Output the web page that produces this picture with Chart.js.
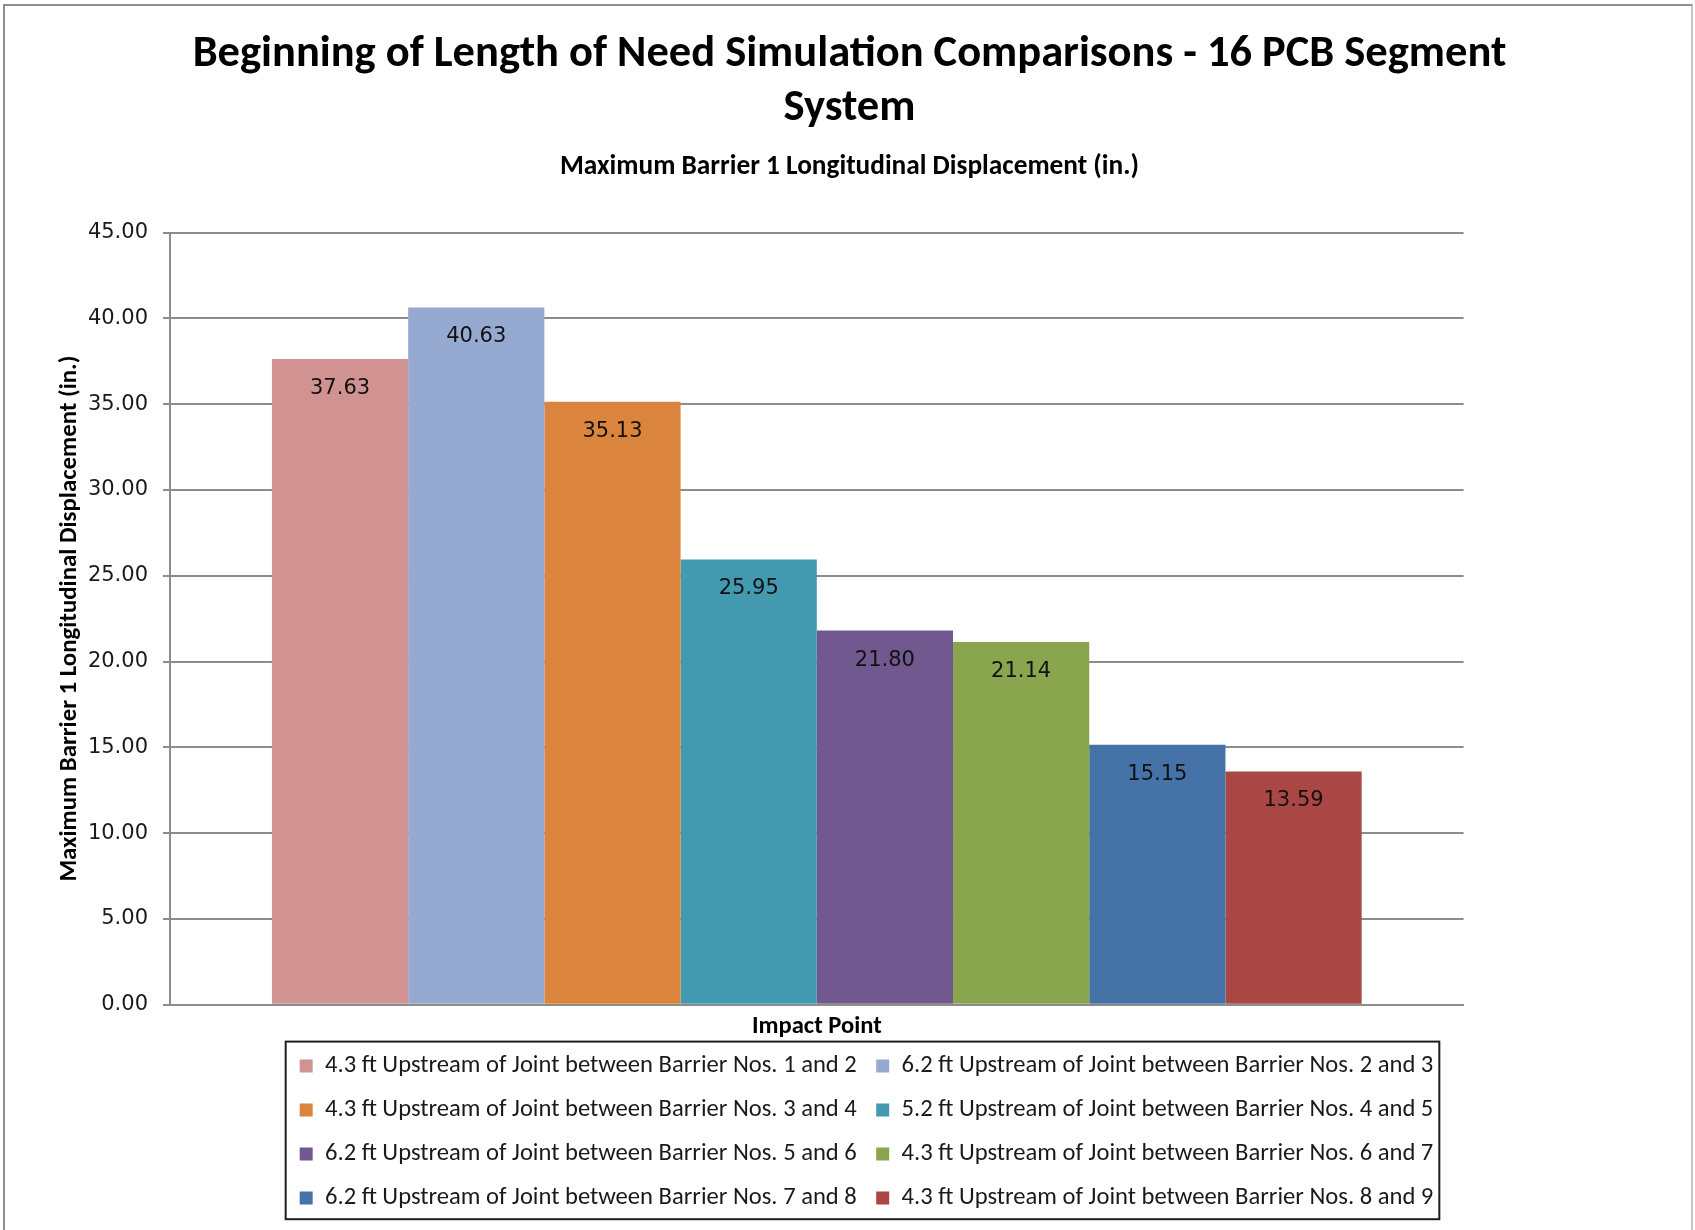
<!DOCTYPE html>
<html>
<head>
<meta charset="utf-8">
<script src="https://cdn.jsdelivr.net/npm/chart.js@4.4.1/dist/chart.umd.min.js"></script>
<style>
  html, body { margin: 0; padding: 0; background: #fff; overflow: hidden; }
  #wrap { position: relative; width: 1695px; height: 1230px; }
  #chart { position: absolute; left: 0; top: 0; }
  #frame {
    position: absolute; left: 3px; top: 4px; width: 1690px; height: 1300px;
    box-sizing: border-box; border: 2px solid #8e8e8e; border-right-color: #c4c4c4;
    pointer-events: none;
  }
</style>
</head>
<body>
<div id="wrap">
  <canvas id="chart" width="1695" height="1230"></canvas>
  <div id="frame"></div>
</div>
<script>
// ---- chart data ----
const impactPoints = [
  '4.3 ft Upstream of Joint between Barrier Nos. 1 and 2',
  '6.2 ft Upstream of Joint between Barrier Nos. 2 and 3',
  '4.3 ft Upstream of Joint between Barrier Nos. 3 and 4',
  '5.2 ft Upstream of Joint between Barrier Nos. 4 and 5',
  '6.2 ft Upstream of Joint between Barrier Nos. 5 and 6',
  '4.3 ft Upstream of Joint between Barrier Nos. 6 and 7',
  '6.2 ft Upstream of Joint between Barrier Nos. 7 and 8',
  '4.3 ft Upstream of Joint between Barrier Nos. 8 and 9'
];
const maxDisplacement = [37.63, 40.63, 35.13, 25.95, 21.80, 21.14, 15.15, 13.59];
const barColors = ['#D19392', '#95A9D1', '#DB843D', '#4299B0', '#71588F', '#89A54E', '#4572A7', '#AA4643'];
const yTickValues = [0, 5, 10, 15, 20, 25, 30, 35, 40, 45];
const chartTitle = ['Beginning of Length of Need Simulation Comparisons - 16 PCB Segment', 'System'];
const chartSubtitle = 'Maximum Barrier 1 Longitudinal Displacement (in.)';
const yAxisTitle = 'Maximum Barrier 1 Longitudinal Displacement (in.)';
const xAxisTitle = 'Impact Point';

// ---- fonts ----
const probe = document.createElement('canvas').getContext('2d');
const SAMPLE = 'The quick brown fox jumps 0123456789';
function fontAvailable(name) {
  probe.font = '40px monospace';
  const base = probe.measureText(SAMPLE).width;
  probe.font = `40px "${name}", monospace`;
  return probe.measureText(SAMPLE).width !== base;
}
const textFamily = ['Carlito', 'Lato', 'Open Sans'].find(fontAvailable) || 'sans-serif';
const FAMILY = `"${textFamily}", sans-serif`;
const NUM_FAMILY = '"DejaVu Sans", Verdana, sans-serif';
function fitSize(text, weight, width) {
  probe.font = `${weight} 100px ${FAMILY}`;
  return Math.round(1000 * width / probe.measureText(text).width) / 10;
}
const titleSize = fitSize(chartTitle[0], 'bold', 1315);
const subtitleSize = fitSize(chartSubtitle, 'bold', 580);
const yTitleSize = fitSize(yAxisTitle, 'bold', 526);
const xTitleSize = fitSize(xAxisTitle, 'bold', 130);
const legendSize = fitSize(impactPoints[0], 'normal', 533);
const LEGEND_ROW = 44;
const LEGEND_SHIFT = 17;
const GRID = '#8c8c8c';
const NUM_FONT_SIZE = 21;

// value printed near the top inside each bar
const valueLabels = {
  id: 'valueLabels',
  afterDatasetsDraw(chart) {
    const ctx = chart.ctx;
    ctx.save();
    ctx.font = `${NUM_FONT_SIZE}px ${NUM_FAMILY}`;
    ctx.fillStyle = '#111';
    ctx.textAlign = 'center';
    ctx.textBaseline = 'middle';
    chart.data.datasets.forEach((ds, i) => {
      chart.getDatasetMeta(i).data.forEach((bar, j) => {
        ctx.fillText(ds.data[j].toFixed(2), bar.x, bar.y + 29.5);
      });
    });
    ctx.restore();
  }
};

// boxed legend, nudged right of the page centre
const legendFrame = {
  id: 'legendFrame',
  afterUpdate(chart) {
    const lg = chart.legend;
    if (!lg) return;
    lg.left += LEGEND_SHIFT;
    lg.right += LEGEND_SHIFT;
    lg.legendHitBoxes.forEach(h => { h.left += LEGEND_SHIFT; });
  },
  afterDraw(chart) {
    const boxes = chart.legend.legendHitBoxes;
    const left = Math.min(...boxes.map(b => b.left)) - 14;
    const right = Math.max(...boxes.map(b => b.left + b.width)) + 6;
    const top = Math.min(...boxes.map(b => b.top)) - 12;
    const bottom = Math.max(...boxes.map(b => b.top + b.height)) + 9;
    const ctx = chart.ctx;
    ctx.save();
    ctx.strokeStyle = '#1e1e1e';
    ctx.lineWidth = 2;
    ctx.strokeRect(left, top, right - left, bottom - top);
    ctx.restore();
  }
};

new Chart(document.getElementById('chart'), {
  type: 'bar',
  data: {
    labels: [xAxisTitle],
    datasets: impactPoints.map((name, i) => ({
      label: name,
      data: [maxDisplacement[i]],
      backgroundColor: barColors[i],
      borderWidth: 0,
      categoryPercentage: 0.8424,
      barPercentage: 1
    }))
  },
  options: {
    responsive: false,
    animation: false,
    devicePixelRatio: 1,
    layout: { padding: { left: 4, right: 0, top: 0, bottom: 9.8 } },
    plugins: {
      title: {
        display: true, text: chartTitle, color: '#000',
        font: { family: FAMILY, weight: 'bold', size: titleSize, lineHeight: '54px' },
        padding: { top: 28, bottom: 0 }
      },
      subtitle: {
        display: true, text: chartSubtitle, color: '#000',
        font: { family: FAMILY, weight: 'bold', size: subtitleSize, lineHeight: '28px' },
        padding: { top: 17.5, bottom: 51 }
      },
      legend: {
        position: 'bottom',
        labels: {
          boxWidth: 13, boxHeight: 13,
          padding: LEGEND_ROW - legendSize,
          color: '#1a1a1a',
          font: { family: FAMILY, size: legendSize }
        }
      },
      tooltip: { enabled: false }
    },
    scales: {
      x: {
        grid: { display: false, drawTicks: false },
        border: { display: true, color: GRID, width: 2 },
        ticks: { display: false },
        title: {
          display: true, text: xAxisTitle, color: '#000',
          font: { family: FAMILY, weight: 'bold', size: xTitleSize, lineHeight: '14px' },
          padding: { top: 15, bottom: 0.5 }
        }
      },
      y: {
        min: yTickValues[0],
        max: yTickValues[yTickValues.length - 1],
        afterBuildTicks: s => { s.ticks = yTickValues.map(v => ({ value: v })); },
        afterFit: s => { s.width = 166; },
        grid: { color: GRID, lineWidth: 2, drawTicks: true, tickLength: 7, tickColor: GRID },
        border: { display: true, color: GRID, width: 2 },
        ticks: {
          color: '#1a1a1a', padding: 15,
          font: { family: NUM_FAMILY, size: NUM_FONT_SIZE },
          callback: v => Number(v).toFixed(2)
        },
        title: {
          display: true, text: yAxisTitle, color: '#000',
          font: { family: FAMILY, weight: 'bold', size: yTitleSize, lineHeight: '24px' },
          padding: { top: 54, bottom: 0 }
        }
      },
      yRight: {
        type: 'linear', position: 'right', display: true,
        grid: { display: false, drawTicks: false },
        border: { display: false },
        ticks: { display: false },
        afterFit: s => { s.width = 231.4; }
      }
    }
  },
  plugins: [valueLabels, legendFrame]
});
</script>
</body>
</html>
